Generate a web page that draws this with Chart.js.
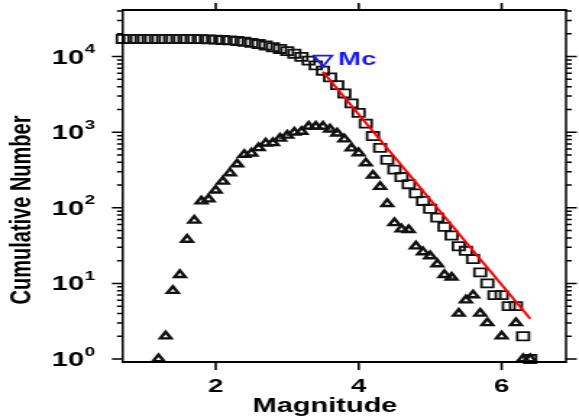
<!DOCTYPE html>
<html>
<head>
<meta charset="utf-8">
<script src="https://cdn.jsdelivr.net/npm/chart.js@4"></script>
<style>
  html, body { margin: 0; padding: 0; background: #fff; overflow: hidden; }
  /* the original figure is stretched sideways, so draw narrow and stretch */
  #wrap { width: 400px; height: 419px; transform: scaleX(1.4475); transform-origin: 0 0; }
</style>
</head>
<body>
<div id="wrap"><canvas id="chart" width="400" height="419"></canvas></div>
<script>
// cumulative number N(>=M), squares
const magnitudes = [0.7, 0.8, 0.9, 1.0, 1.1, 1.2, 1.3, 1.4, 1.5, 1.6, 1.7, 1.8, 1.9, 2.0, 2.1, 2.2, 2.3, 2.4, 2.5, 2.6,
  2.7, 2.8, 2.9, 3.0, 3.1, 3.2, 3.3, 3.4, 3.5, 3.6, 3.7, 3.8, 3.9, 4.0, 4.1, 4.2, 4.3, 4.4, 4.5, 4.6,
  4.7, 4.8, 4.9, 5.0, 5.1, 5.2, 5.3, 5.4, 5.5, 5.6, 5.7, 5.8, 5.9, 6.0, 6.1, 6.2, 6.3, 6.4];
const cumulative = [17100, 17100, 17100, 17100, 17100, 17100, 17100, 17100, 17100, 17100, 17050, 17000, 16850, 16750, 16550, 16350, 16050, 15700, 15200, 14650,
  14000, 13300, 12600, 11800, 10900, 9900, 8850, 7650, 6500, 5300, 4200, 3250, 2400, 1800, 1300, 890, 620, 430, 320, 255,
  205, 155, 123, 97, 74, 56, 43, 31, 27, 21, 14, 10, 7, 7, 5, 5, 2, 1];

// number of events in each magnitude bin, triangles
const binMagnitudes = [1.2, 1.3, 1.4, 1.5, 1.6, 1.7, 1.8, 1.9, 2.0, 2.1, 2.2, 2.3, 2.4, 2.5, 2.6, 2.7, 2.8, 2.9, 3.0, 3.1,
  3.2, 3.3, 3.4, 3.5, 3.6, 3.7, 3.8, 3.9, 4.0, 4.1, 4.2, 4.3, 4.4, 4.5, 4.6, 4.7, 4.8, 4.9, 5.0, 5.1,
  5.2, 5.3, 5.4, 5.5, 5.6, 5.7, 5.8, 6.0, 6.2, 6.3, 6.4];
const binCounts = [1, 2, 8, 13, 38, 68, 122, 130, 170, 223, 288, 378, 505, 526, 618, 713, 720, 825, 905, 990,
  1016, 1190, 1190, 1190, 1092, 967, 808, 613, 530, 390, 268, 190, 113, 63, 52, 51, 31, 26, 23, 18,
  13, 12, 4, 6, 7, 4, 3, 2, 3, 1, 1];

// Gutenberg-Richter fit line and magnitude of completeness
const fitMagnitudes = [3.5, 6.4];
const fitCounts = [6300, 3.4];
const mcMagnitude = [3.5];
const mcCount = [9200];

const xTicks = [2, 4, 6];
const yTicks = [1, 10, 100, 1000, 10000];
const yTickBase = ["10", "10", "10", "10", "10"];
const yTickExp = ["0", "1", "2", "3", "4"];

const FONT = '"Liberation Sans", Arial, sans-serif';

const toPoints = (xs, ys) => xs.map((x, i) => ({ x: x, y: ys[i] }));

// frame, tick marks, y labels, axis titles and the Mc label
const framePlugin = {
  id: "frame",
  afterDraw(chart) {
    const ctx = chart.ctx;
    const a = chart.chartArea;
    const xs = chart.scales.x;
    const ys = chart.scales.y;
    ctx.save();
    ctx.strokeStyle = "#000";
    ctx.fillStyle = "#000";

    // box
    ctx.lineWidth = 2;
    ctx.beginPath();
    ctx.moveTo(a.left, a.top); ctx.lineTo(a.right, a.top);
    ctx.moveTo(a.left, a.bottom); ctx.lineTo(a.right, a.bottom);
    ctx.stroke();
    ctx.lineWidth = 1.5;
    ctx.beginPath();
    ctx.moveTo(a.left, a.top - 1); ctx.lineTo(a.left, a.bottom + 1);
    ctx.moveTo(a.right, a.top - 1); ctx.lineTo(a.right, a.bottom + 1);
    ctx.stroke();

    // x ticks, outside top and bottom
    ctx.lineWidth = 1.6;
    ctx.beginPath();
    xTicks.forEach(v => {
      const px = xs.getPixelForValue(v);
      ctx.moveTo(px, a.bottom); ctx.lineTo(px, a.bottom + 8);
      ctx.moveTo(px, a.top); ctx.lineTo(px, a.top - 7);
    });
    ctx.stroke();

    // y ticks, decades long, 2..9 short, left and right
    ctx.lineWidth = 1.5;
    ctx.beginPath();
    for (let d = 1; d <= 10000; d *= 10) {
      for (let k = 1; k <= 9; k++) {
        const v = d * k;
        if (v < ys.min || v > ys.max) continue;
        const py = ys.getPixelForValue(v);
        const len = k === 1 ? 7.5 : 4;
        ctx.moveTo(a.left, py); ctx.lineTo(a.left - len, py);
        ctx.moveTo(a.right, py); ctx.lineTo(a.right + len, py);
      }
    }
    ctx.stroke();

    // y labels 10^n
    ctx.textAlign = "right";
    ctx.textBaseline = "middle";
    yTicks.forEach((v, i) => {
      const py = ys.getPixelForValue(v);
      const right = a.left - 19;
      ctx.font = "bold 13px " + FONT;
      const ew = ctx.measureText(yTickExp[i]).width;
      ctx.fillText(yTickExp[i], right, py - 7);
      ctx.font = "bold 20px " + FONT;
      ctx.fillText(yTickBase[i], right - ew - 0.5, py + 1.5);
    });

    // axis titles
    ctx.textAlign = "center";
    ctx.font = "bold 20px " + FONT;
    ctx.fillText("Magnitude", 224.5, 406);
    ctx.save();
    ctx.translate(15.5, 210);
    ctx.rotate(-Math.PI / 2);
    ctx.font = "bold 20px " + FONT;
    ctx.fillText("Cumulative Number", 0, 0);
    ctx.restore();

    // Mc label
    ctx.fillStyle = "#1a1aee";
    ctx.textAlign = "left";
    ctx.font = "bold 19px " + FONT;
    ctx.fillText("Mc", xs.getPixelForValue(mcMagnitude[0]) + 10.5, ys.getPixelForValue(mcCount[0]) + 0.5);
    ctx.restore();
  }
};

const ctx = document.getElementById("chart").getContext("2d");

new Chart(ctx, {
  type: "scatter",
  data: {
    datasets: [
      {
        label: "fit",
        data: toPoints(fitMagnitudes, fitCounts),
        showLine: true,
        borderColor: "#ff0000",
        borderWidth: 2,
        pointRadius: 0,
        clip: false,
        order: 0,
      },
      {
        label: "Mc",
        data: toPoints(mcMagnitude, mcCount),
        pointStyle: "triangle",
        rotation: 180,
        pointRadius: 7.2,
        borderColor: "#1a1aee",
        backgroundColor: "rgba(0,0,0,0)",
        borderWidth: 1.8,
        clip: false,
        order: 1,
      },
      {
        label: "cumulative",
        data: toPoints(magnitudes, cumulative),
        pointStyle: "rect",
        pointRadius: 5.7,
        borderColor: "#111",
        backgroundColor: "rgba(0,0,0,0)",
        borderWidth: 1.8,
        clip: false,
        order: 2,
      },
      {
        label: "per bin",
        data: toPoints(binMagnitudes, binCounts),
        pointStyle: "triangle",
        pointRadius: 4.3,
        borderColor: "#111",
        backgroundColor: "rgba(0,0,0,0)",
        borderWidth: 2.4,
        clip: false,
        order: 3,
      },
    ],
  },
  options: {
    responsive: false,
    animation: false,
    layout: { padding: { top: 10, right: 9, left: 0, bottom: 0 } },
    plugins: {
      legend: { display: false },
      tooltip: { enabled: false },
    },
    scales: {
      x: {
        type: "linear",
        min: 0.7,
        max: 6.9,
        afterBuildTicks: (s) => { s.ticks = xTicks.map(v => ({ value: v })); },
        afterFit: (s) => { s.height = 57; },
        grid: { display: false },
        border: { display: false },
        ticks: {
          color: "#000",
          padding: 5,
          maxRotation: 0,
          font: { family: FONT, size: 19, weight: "bold" },
        },
      },
      y: {
        type: "logarithmic",
        min: 0.913,
        max: 41300,
        afterBuildTicks: (s) => { s.ticks = yTicks.map(v => ({ value: v })); },
        afterFit: (s) => { s.width = 84.8; },
        grid: { display: false },
        border: { display: false },
        ticks: { display: false },
      },
    },
  },
  plugins: [framePlugin],
});
</script>
</body>
</html>
